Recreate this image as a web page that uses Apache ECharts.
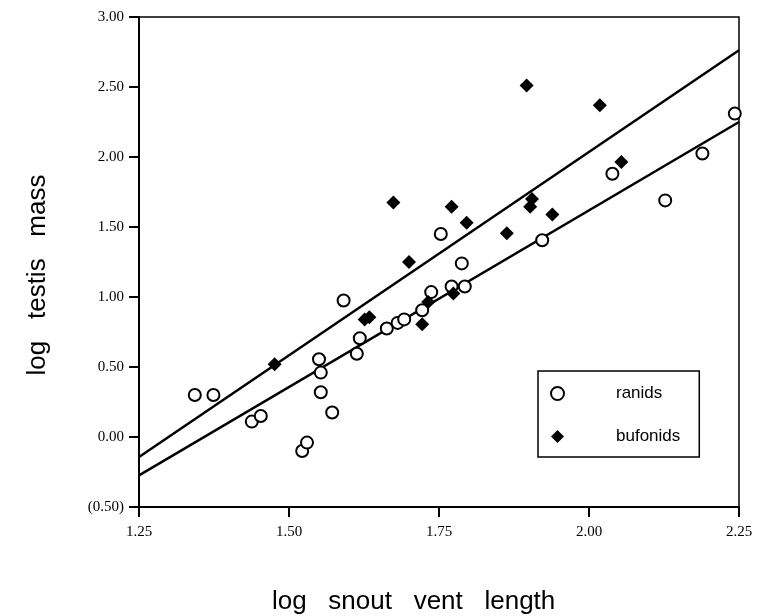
<!DOCTYPE html>
<html>
<head>
<meta charset="utf-8">
<script src="https://cdn.jsdelivr.net/npm/echarts@6/dist/echarts.min.js"></script>
<style>html,body{margin:0;padding:0;background:#fff}#c{width:767px;height:616px}</style>
</head>
<body>
<div id="c"></div>
<script>
// Data
const ranidsX = [1.343,1.374,1.438,1.453,1.522,1.530,1.550,1.553,1.553,1.572,1.591,1.613,1.618,1.663,1.681,1.692,1.722,1.737,1.753,1.771,1.788,1.793,1.922,2.039,2.127,2.189,2.243];
const ranidsY = [0.30,0.30,0.11,0.15,-0.10,-0.04,0.555,0.46,0.32,0.175,0.975,0.595,0.705,0.775,0.815,0.84,0.905,1.035,1.45,1.075,1.24,1.075,1.405,1.88,1.69,2.025,2.31];
const bufoX = [1.476,1.626,1.634,1.674,1.700,1.722,1.732,1.771,1.774,1.796,1.863,1.896,1.902,1.905,1.939,2.018,2.054];
const bufoY = [0.52,0.84,0.855,1.675,1.25,0.805,0.965,1.645,1.025,1.53,1.455,2.51,1.645,1.70,1.59,2.37,1.965];
const fitX = [1.25, 2.25];
const ranidsFit = [-0.274, 2.25];
const bufoFit = [-0.143, 2.762];
const xTicks = [1.25, 1.50, 1.75, 2.00, 2.25];
const yTicks = [-0.50, 0.00, 0.50, 1.00, 1.50, 2.00, 2.50, 3.00];
const seriesNames = ['ranids', 'bufonids'];
const xTitle = 'log   snout   vent   length';
const yTitle = 'log   testis   mass';

const zip = (a, b) => a.map((v, i) => [v, b[i]]);
const chart = echarts.init(document.getElementById('c'), null, {renderer: 'canvas'});
const yFmt = v => v < 0 ? '(' + Math.abs(v).toFixed(2) + ')' : v.toFixed(2);
chart.setOption({
  animation: false,
  backgroundColor: '#fff',
  grid: {left: 139, right: 28, top: 17, bottom: 109, show: true, borderColor: '#000', borderWidth: 1.5},
  xAxis: {
    type: 'value', min: xTicks[0], max: xTicks[xTicks.length - 1], interval: 0.25,
    axisLine: {show: true, onZero: false, lineStyle: {color: '#000', width: 2}},
    axisTick: {show: true, inside: false, length: 10, lineStyle: {color: '#000', width: 2}},
    axisLabel: {color: '#000', fontFamily: 'Liberation Serif', fontSize: 15, margin: 18, formatter: v => v.toFixed(2)},
    splitLine: {show: false}
  },
  yAxis: {
    type: 'value', min: yTicks[0], max: yTicks[yTicks.length - 1], interval: 0.5,
    axisLine: {show: true, onZero: false, lineStyle: {color: '#000', width: 2}},
    axisTick: {show: true, inside: false, length: 10, lineStyle: {color: '#000', width: 2}},
    axisLabel: {color: '#000', fontFamily: 'Liberation Serif', fontSize: 15, margin: 15, formatter: yFmt},
    splitLine: {show: false}
  },
  legend: {
    data: [
      {name: seriesNames[0], icon: 'circle', itemStyle: {color: '#fff', borderColor: '#000', borderWidth: 2}},
      {name: seriesNames[1], icon: 'diamond', itemStyle: {color: '#000'}}
    ],
    orient: 'vertical', left: 538, top: 371,
    itemWidth: 13, itemHeight: 13, itemGap: 26,
    padding: [14, 19, 12, 12],
    borderColor: '#000', borderWidth: 1.5,
    textStyle: {color: '#000', fontFamily: 'Liberation Sans', fontSize: 17, padding: [0, 0, 0, 47]}
  },
  graphic: [
    {type: 'text', left: 272, top: 589, style: {text: xTitle, font: '26px "Liberation Sans"', fill: '#000'}},
    {type: 'text', x: 38, y: 275, rotation: Math.PI / 2, style: {text: yTitle, font: '26px "Liberation Sans"', fill: '#000', align: 'center', verticalAlign: 'middle'}}
  ],
  series: [
    {name: 'ranidsFit', type: 'line', data: zip(fitX, ranidsFit), showSymbol: false, lineStyle: {color: '#000', width: 2.5}, z: 1, silent: true},
    {name: 'bufoFit', type: 'line', data: zip(fitX, bufoFit), showSymbol: false, lineStyle: {color: '#000', width: 2.5}, z: 1, silent: true},
    {name: seriesNames[0], type: 'scatter', data: zip(ranidsX, ranidsY), symbol: 'circle', symbolSize: 12,
     itemStyle: {color: '#fff', borderColor: '#000', borderWidth: 2, opacity: 1}, z: 3},
    {name: seriesNames[1], type: 'scatter', data: zip(bufoX, bufoY), symbol: 'diamond', symbolSize: 14,
     itemStyle: {color: '#000', opacity: 1}, z: 4}
  ]
});
</script>
</body>
</html>
